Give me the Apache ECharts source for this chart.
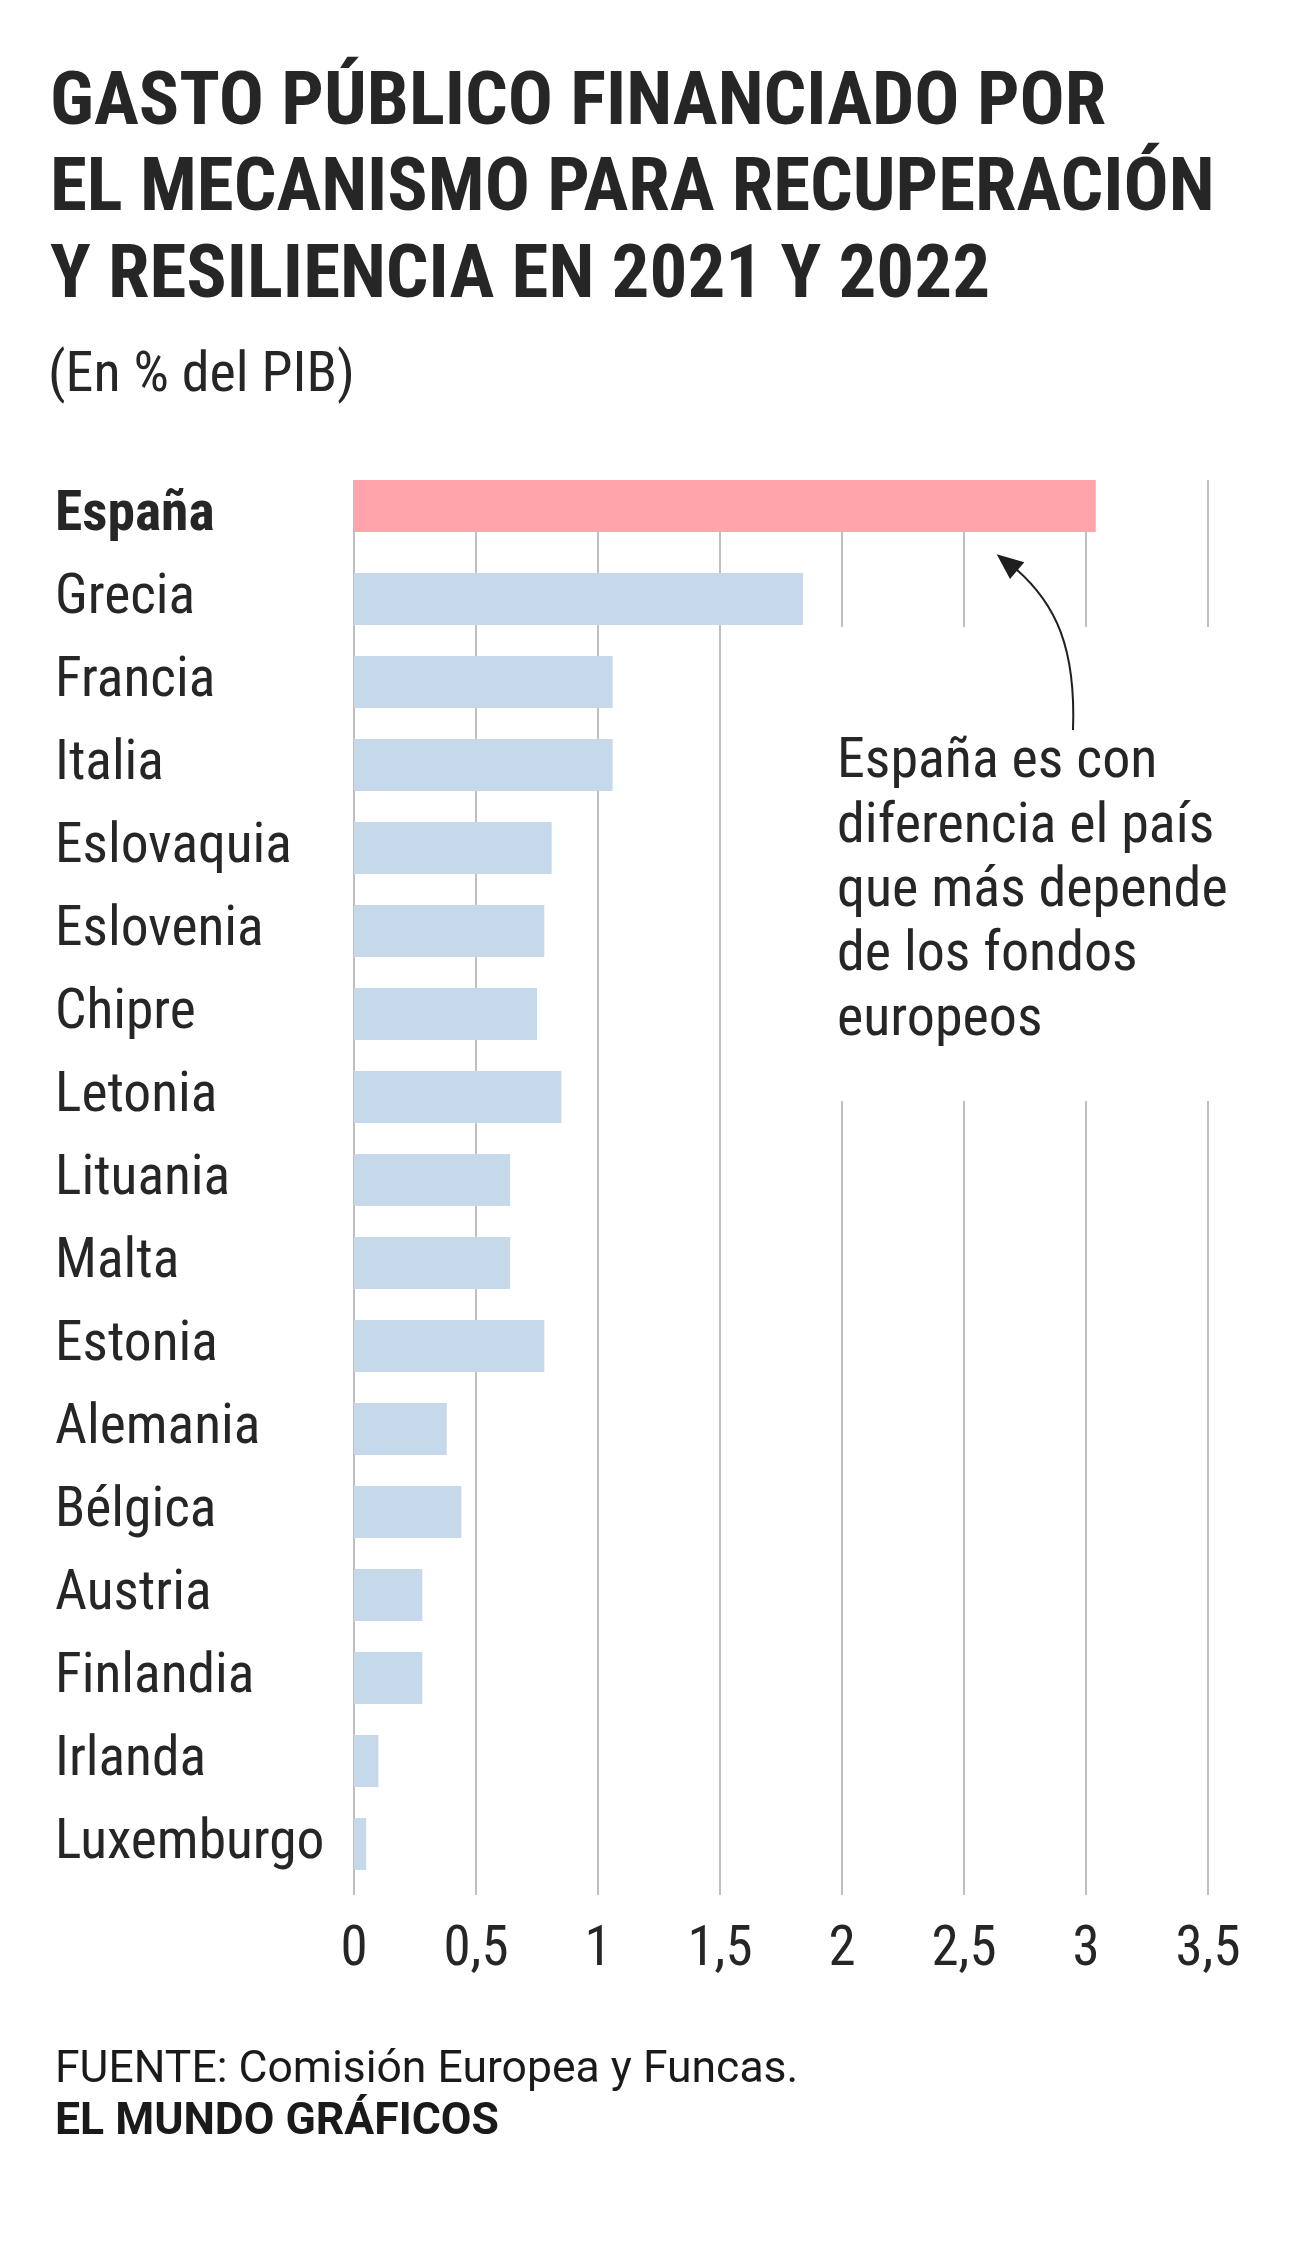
<!DOCTYPE html>
<html>
<head>
<meta charset="utf-8">
<script src="https://cdn.jsdelivr.net/npm/echarts@6/dist/echarts.min.js"></script>
<style>
  html, body { margin: 0; padding: 0; background: #fff; }
  #chart { width: 1296px; height: 2250px; }
</style>
</head>
<body>
<div id="chart"></div>
<script>
// datos: gasto financiado por el MRR, % del PIB
const leader = ['España']
const leaderValues = [3.04]
const countries = ['Grecia', 'Francia', 'Italia', 'Eslovaquia', 'Eslovenia', 'Chipre', 'Letonia',
  'Lituania', 'Malta', 'Estonia', 'Alemania', 'Bélgica', 'Austria', 'Finlandia', 'Irlanda', 'Luxemburgo']
const values = [1.84, 1.06, 1.06, 0.81, 0.78, 0.75, 0.85, 0.64, 0.64, 0.78, 0.38, 0.44, 0.28, 0.28, 0.10, 0.05]
const xTicks = [0, 0.5, 1, 1.5, 2, 2.5, 3, 3.5]
const xTickLabels = ['0', '0,5', '1', '1,5', '2', '2,5', '3', '3,5']

const COND = "'Roboto Condensed', Roboto, sans-serif"
const TEXT = '#262626'
const gridLeft = 354
const gridWidth = 854

const chart = echarts.init(document.getElementById('chart'), null, { renderer: 'canvas' })

const hiddenX = (idx) => ({
  gridIndex: idx, type: 'value', min: 0, max: 3.5, interval: 0.5, show: false
})
const catY = (idx, data, bold) => ({
  gridIndex: idx,
  type: 'category',
  inverse: true,
  data: data,
  axisLine: { show: false },
  axisTick: { show: false },
  splitLine: { show: false },
  axisLabel: Object.assign({
    align: 'left',
    margin: 299,
    fontFamily: COND,
    fontSize: 55.5,
    fontWeight: bold ? 'bold' : 'normal',
    color: TEXT
  }, bold ? { verticalAlign: 'top', lineHeight: 21 } : {})
})

chart.setOption({
  backgroundColor: '#fff',
  animation: false,
  grid: [
    // fondo con las líneas verticales
    { left: gridLeft, width: gridWidth, top: 480, height: 1415 },
    // España aparte
    { left: gridLeft, width: gridWidth, top: 464.5, height: 83 },
    // resto de países
    { left: gridLeft, width: gridWidth, top: 557.5, height: 1328 }
  ],
  xAxis: [
    {
      gridIndex: 0,
      type: 'value',
      min: 0,
      max: 3.5,
      interval: 0.5,
      axisLine: { show: false },
      axisTick: { show: false },
      splitLine: { show: true, lineStyle: { color: '#aaaaaa', width: 1.5 } },
      axisLabel: {
        margin: 29,
        fontFamily: COND,
        fontSize: 55,
        color: TEXT,
        formatter: (v) => xTickLabels[xTicks.indexOf(v)]
      }
    },
    hiddenX(1),
    hiddenX(2)
  ],
  yAxis: [
    { gridIndex: 0, type: 'value', show: false },
    catY(1, leader, true),
    catY(2, countries, false)
  ],
  series: [
    {
      type: 'bar',
      xAxisIndex: 1,
      yAxisIndex: 1,
      data: leaderValues,
      barWidth: 52,
      itemStyle: { color: '#ffa4aa' },
      z: 3
    },
    {
      type: 'bar',
      xAxisIndex: 2,
      yAxisIndex: 2,
      data: values,
      barWidth: 52,
      itemStyle: { color: '#c5d9ea' },
      z: 3
    }
  ],
  graphic: [
    {
      type: 'text',
      left: 50,
      top: 62,
      style: {
        text: 'GASTO PÚBLICO FINANCIADO POR\nEL MECANISMO PARA RECUPERACIÓN\nY RESILIENCIA EN 2021 Y 2022',
        font: 'bold 75px ' + COND,
        lineHeight: 86.3,
        fill: TEXT
      }
    },
    {
      type: 'text',
      left: 48,
      top: 349,
      style: {
        text: '(En % del PIB)',
        font: '56px ' + COND,
        lineHeight: 56,
        fill: TEXT
      }
    },
    // hueco blanco para la anotación
    {
      type: 'rect',
      z: 1,
      shape: { x: 800, y: 627, width: 440, height: 474 },
      style: { fill: '#fff' }
    },
    {
      type: 'text',
      z: 5,
      left: 837,
      top: 731,
      style: {
        text: 'España es con\ndiferencia el país\nque más depende\nde los fondos\neuropeos',
        font: '56px ' + COND,
        lineHeight: 64.4,
        fill: TEXT
      }
    },
    {
      type: 'bezierCurve',
      z: 5,
      shape: { x1: 1073, y1: 730, cpx1: 1076, cpy1: 648, cpx2: 1056, cpy2: 604, x2: 1016, y2: 569 },
      style: { stroke: '#1f1f1f', lineWidth: 2, fill: null }
    },
    {
      type: 'polygon',
      z: 5,
      shape: { points: [[996.7, 554.3], [1024.3, 562.3], [1010, 579]] },
      style: { fill: '#1f1f1f' }
    },
    {
      type: 'text',
      left: 55,
      top: 2045,
      style: {
        text: 'FUENTE: Comisión Europea y Funcas.',
        font: '44.5px Roboto, sans-serif',
        lineHeight: 52,
        fill: '#1a1a1a'
      }
    },
    {
      type: 'text',
      left: 55,
      top: 2097,
      style: {
        text: 'EL MUNDO GRÁFICOS',
        font: 'bold 44.5px Roboto, sans-serif',
        lineHeight: 52,
        fill: '#1a1a1a'
      }
    }
  ]
})
</script>
</body>
</html>
